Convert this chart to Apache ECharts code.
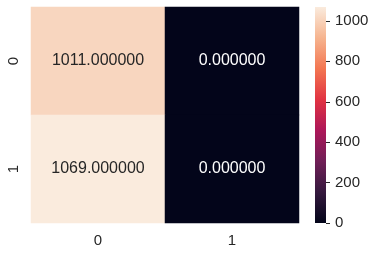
<!DOCTYPE html>
<html><head><meta charset="utf-8">
<script src="https://cdn.jsdelivr.net/npm/echarts@6/dist/echarts.min.js"></script>
<style>html,body{margin:0;padding:0;background:#fff}#c{width:376px;height:255px}</style>
</head><body><div id="c"></div>
<script>
const xCategories = ['0', '1'];
const yCategories = ['0', '1'];
const cellValues = [[1011, 0], [1069, 0]]; // rows = y, cols = x
const colorbarTicks = [0, 200, 400, 600, 800, 1000];
const rocket = ['#03051a', '#35193e', '#701f57', '#ad1759', '#e13342', '#f37651', '#f6b48f', '#faebdd'];

const vmin = 0;
const vmax = Math.max(...cellValues.flat());
const FONT = 'Liberation Sans, Arial, sans-serif';
const TXT = '#262626';

const data = [];
cellValues.forEach((row, yi) => row.forEach((v, xi) => {
  data.push({ value: [xi, yi, v], label: { color: (v - vmin) / (vmax - vmin) > 0.5 ? TXT : '#ffffff' } });
}));

const chart = echarts.init(document.getElementById('c'), null, { renderer: 'canvas' });
chart.setOption({
  animation: false,
  backgroundColor: '#ffffff',
  textStyle: { fontFamily: FONT },
  grid: [
    { left: 31, top: 7, width: 268, height: 216 },
    { left: 315, top: 7, width: 11, height: 216 }
  ],
  xAxis: [
    { type: 'category', gridIndex: 0, data: xCategories, axisLine: { show: false }, axisTick: { show: false },
      splitLine: { show: false }, axisLabel: { color: TXT, fontSize: 15, fontFamily: FONT, margin: 10 } },
    { type: 'category', gridIndex: 1, data: [''], show: false }
  ],
  yAxis: [
    { type: 'category', gridIndex: 0, data: yCategories, inverse: true, axisLine: { show: false }, axisTick: { show: false },
      splitLine: { show: false }, axisLabel: { color: TXT, fontSize: 15, fontFamily: FONT, rotate: 90, margin: 10 } },
    { type: 'value', gridIndex: 1, position: 'right', min: vmin, max: vmax,
      axisLine: { show: false }, splitLine: { show: false },
      axisTick: { show: true, length: 4, lineStyle: { color: TXT, width: 1 }, customValues: colorbarTicks },
      axisLabel: { color: TXT, fontSize: 15, fontFamily: FONT, margin: 9, customValues: colorbarTicks,
        formatter: v => String(v) } }
  ],
  visualMap: {
    show: false, type: 'continuous', seriesIndex: 0, dimension: 2,
    min: vmin, max: vmax, inRange: { color: rocket }
  },
  series: [
    { type: 'heatmap', xAxisIndex: 0, yAxisIndex: 0, data: data,
      label: { show: true, fontSize: 16, fontFamily: FONT, formatter: p => p.value[2].toFixed(6) },
      emphasis: { disabled: true }, itemStyle: { borderWidth: 0 } },
    { type: 'bar', xAxisIndex: 1, yAxisIndex: 1, data: [vmax], barWidth: '100%', silent: true,
      itemStyle: { color: new echarts.graphic.LinearGradient(0, 0, 0, 1,
        rocket.slice().reverse().map((c, i, a) => ({ offset: i / (a.length - 1), color: c }))) } }
  ]
});
</script></body></html>
